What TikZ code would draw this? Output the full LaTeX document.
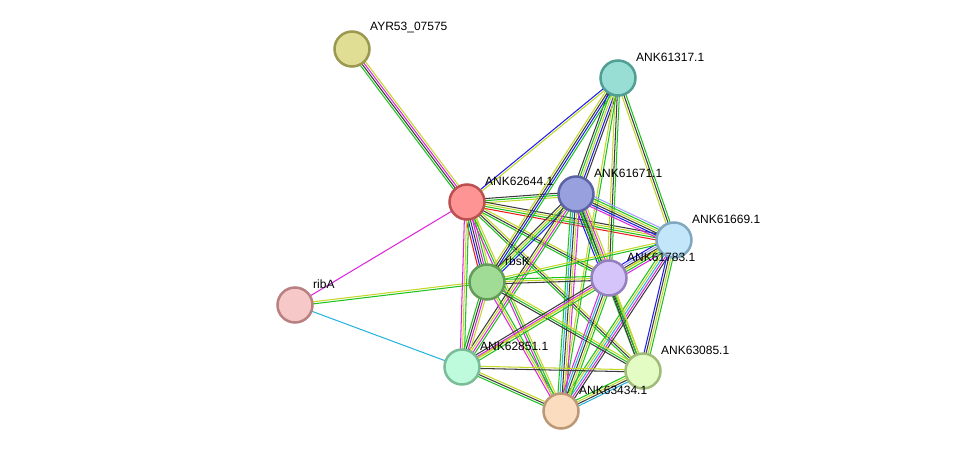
\documentclass[tikz,border=0pt]{standalone}
\usepackage{fontspec}
\setmainfont{Liberation Sans}
\usetikzlibrary{calc}
\pgfdeclarelayer{bg}
\pgfsetlayers{bg,main}
\definecolor{nbG}{RGB}{30,195,30}
\definecolor{txY}{RGB}{195,215,40}
\definecolor{coK}{RGB}{60,60,60}
\definecolor{exM}{RGB}{220,40,220}
\definecolor{dbC}{RGB}{40,180,225}
\definecolor{cooB}{RGB}{30,30,240}
\definecolor{fuR}{RGB}{240,30,30}
\definecolor{hoL}{RGB}{160,160,255}
% node colours
\definecolor{fAyr}{RGB}{224,222,148}\definecolor{dAyr}{RGB}{155,152,80}
\definecolor{fA17}{RGB}{152,222,212}\definecolor{dA17}{RGB}{80,158,148}
\definecolor{fA44}{RGB}{255,148,148}\definecolor{dA44}{RGB}{188,80,80}
\definecolor{fA71}{RGB}{152,160,222}\definecolor{dA71}{RGB}{90,100,165}
\definecolor{fA69}{RGB}{195,230,250}\definecolor{dA69}{RGB}{128,168,192}
\definecolor{fRbs}{RGB}{160,220,150}\definecolor{dRbs}{RGB}{98,156,88}
\definecolor{fA83}{RGB}{212,196,250}\definecolor{dA83}{RGB}{148,128,188}
\definecolor{fRib}{RGB}{246,200,200}\definecolor{dRib}{RGB}{184,128,128}
\definecolor{fA51}{RGB}{190,250,220}\definecolor{dA51}{RGB}{122,188,152}
\definecolor{fA85}{RGB}{226,252,196}\definecolor{dA85}{RGB}{160,188,120}
\definecolor{fA34}{RGB}{252,220,190}\definecolor{dA34}{RGB}{188,152,118}
\newcommand\multiedge[3]{%
  \foreach \cc [count=\ii] in {#3} {\global\let\ncount\ii}%
  \foreach \cc [count=\ii] in {#3} {%
    \pgfmathsetmacro\off{(\ii-(\ncount+1)/2)*2.1}%
    \draw[\cc, line width=1.05pt] ($(#1.center)!\off pt!90:(#2.center)$) -- ($(#2.center)!\off pt!-90:(#1.center)$);
  }%
}
\tikzset{
  prot/.style n args={2}{circle, minimum size=35pt, inner sep=0pt, line width=2.5pt, fill=#1, draw=#2},
  lbl/.style={anchor=west, font=\fontsize{12}{14}\selectfont, inner sep=0pt, text=black}
}
\begin{document}
\begin{tikzpicture}[x=1pt,y=-1pt]
\useasboundingbox (0,0) rectangle (975,458);
% nodes
\node[prot={fAyr}{dAyr}] (ayr) at (352,49) {};
\node[prot={fA17}{dA17}] (n17) at (618,78) {};
\node[prot={fA44}{dA44}] (n44) at (467,202) {};
\node[prot={fA71}{dA71}] (n71) at (576,194) {};
\node[prot={fA69}{dA69}] (n69) at (674,240) {};
\node[prot={fRbs}{dRbs}] (rbs) at (487,282) {};
\node[prot={fA83}{dA83}] (n83) at (609,278) {};
\node[prot={fRib}{dRib}] (rib) at (295,305) {};
\node[prot={fA51}{dA51}] (n51) at (462,367) {};
\node[prot={fA85}{dA85}] (n85) at (643,371) {};
\node[prot={fA34}{dA34}] (n34) at (561,411) {};
% labels
\node[lbl] (layr) at ($(ayr)+(18,-21)$) {AYR53\_07575};
\node[lbl] (l17) at ($(n17)+(18,-21)$) {ANK61317.1};
\node[lbl] (l44) at ($(n44)+(18,-21)$) {ANK62644.1};
\node[lbl] (l71) at ($(n71)+(18,-21)$) {ANK61671.1};
\node[lbl] (l69) at ($(n69)+(18,-21)$) {ANK61669.1};
\node[lbl] (lrbs) at ($(rbs)+(18,-21)$) {rbsK};
\node[lbl] (l83) at ($(n83)+(18,-21)$) {ANK61783.1};
\node[lbl] (lrib) at ($(rib)+(18,-21)$) {ribA};
\node[lbl] (l51) at ($(n51)+(18,-21)$) {ANK62851.1};
\node[lbl] (l85) at ($(n85)+(18,-21)$) {ANK63085.1};
\node[lbl] (l34) at ($(n34)+(18,-21)$) {ANK63434.1};
% edges
\begin{pgfonlayer}{bg}
\multiedge{ayr}{n44}{nbG,coK,exM,txY}
\multiedge{n44}{n17}{txY,cooB}
\multiedge{n44}{rib}{exM}
\multiedge{rib}{rbs}{nbG,txY}
\multiedge{rib}{n51}{dbC}
\multiedge{n44}{n71}{txY,nbG,coK}
\multiedge{n44}{n69}{fuR,nbG,txY,coK}
\multiedge{n44}{n83}{nbG,coK,txY}
\multiedge{n44}{rbs}{fuR,cooB,coK,exM,nbG,txY}
\multiedge{n44}{n51}{exM,txY,nbG}
\multiedge{n44}{n34}{exM,nbG,txY}
\multiedge{n44}{n85}{nbG,coK,txY}
\multiedge{n17}{n71}{coK,nbG,txY,cooB,coK}
\multiedge{n17}{rbs}{txY,coK,cooB,nbG}
\multiedge{n17}{n83}{txY,coK,nbG}
\multiedge{n17}{n34}{txY,nbG}
\multiedge{n17}{n69}{txY,coK,nbG}
\multiedge{n71}{n69}{exM,cooB,coK,txY,nbG,hoL}
\multiedge{n71}{n83}{cooB,coK,nbG,dbC,exM,txY}
\multiedge{n71}{rbs}{coK,txY,nbG,cooB}
\multiedge{n71}{n51}{coK,txY,exM,nbG}
\multiedge{n71}{n34}{nbG,dbC,coK,txY,exM}
\multiedge{n71}{n85}{nbG,coK,txY}
\multiedge{n69}{n83}{cooB,hoL,coK,txY,nbG,exM}
\multiedge{n69}{rbs}{txY,nbG}
\multiedge{n69}{n51}{txY}
\multiedge{n69}{n34}{nbG,txY,dbC,exM,coK}
\multiedge{n69}{n85}{cooB,coK,txY,nbG}
\multiedge{rbs}{n83}{coK,txY,nbG}
\multiedge{rbs}{n51}{nbG,coK,exM,txY}
\multiedge{rbs}{n34}{exM,txY,nbG}
\multiedge{rbs}{n85}{coK,nbG,txY}
\multiedge{n83}{n51}{coK,exM,txY,nbG}
\multiedge{n83}{n34}{exM,dbC,coK,txY,nbG}
\multiedge{n83}{n85}{coK,nbG,txY}
\multiedge{n51}{n85}{coK,txY}
\multiedge{n51}{n34}{nbG,coK,txY}
\multiedge{n34}{n85}{dbC,coK,txY,nbG}
\end{pgfonlayer}
\end{tikzpicture}
\end{document}
